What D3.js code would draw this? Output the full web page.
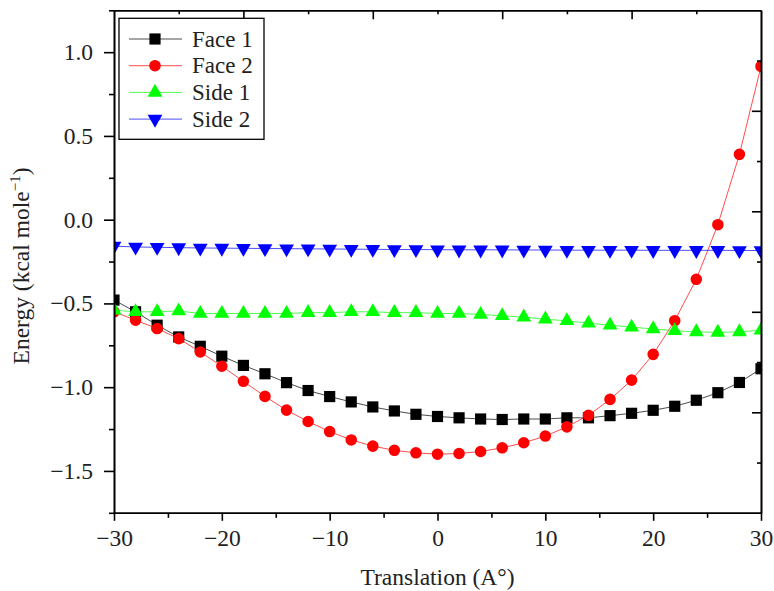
<!DOCTYPE html>
<html><head><meta charset="utf-8">
<script src="https://cdn.jsdelivr.net/npm/d3@7"></script>
<style>body{margin:0;background:#fff}svg{display:block}
svg text{font-family:"Liberation Serif","Times New Roman",serif !important;}
</style>
</head><body><svg id="c" width="774" height="591"></svg>
<script>
const translation = [-30,-28,-26,-24,-22,-20,-18,-16,-14,-12,-10,-8,-6,-4,-2,0,2,4,6,8,10,12,14,16,18,20,22,24,26,28,30];
const face1 = [-0.48,-0.55,-0.63,-0.70,-0.756,-0.815,-0.87,-0.92,-0.973,-1.02,-1.056,-1.088,-1.118,-1.142,-1.162,-1.175,-1.183,-1.19,-1.193,-1.19,-1.19,-1.183,-1.183,-1.17,-1.156,-1.138,-1.114,-1.078,-1.033,-0.972,-0.89];
const face2 = [-0.55,-0.60,-0.65,-0.71,-0.79,-0.875,-0.965,-1.055,-1.137,-1.205,-1.265,-1.315,-1.352,-1.377,-1.392,-1.40,-1.396,-1.384,-1.362,-1.332,-1.292,-1.237,-1.168,-1.073,-0.958,-0.804,-0.603,-0.356,-0.030,0.39,0.915];
const side1 = [-0.54,-0.55,-0.55,-0.545,-0.56,-0.56,-0.56,-0.56,-0.56,-0.555,-0.555,-0.55,-0.55,-0.555,-0.555,-0.56,-0.56,-0.566,-0.574,-0.582,-0.594,-0.604,-0.618,-0.63,-0.642,-0.652,-0.663,-0.67,-0.673,-0.67,-0.66];
const side2 = [-0.158,-0.163,-0.165,-0.167,-0.169,-0.17,-0.171,-0.172,-0.173,-0.174,-0.175,-0.176,-0.177,-0.178,-0.178,-0.179,-0.18,-0.18,-0.18,-0.181,-0.181,-0.182,-0.182,-0.182,-0.182,-0.183,-0.183,-0.183,-0.183,-0.184,-0.184];
const seriesNames = ["Face 1","Face 2","Side 1","Side 2"];
const seriesColors = ["#000000","#ff0000","#00ff00","#0000ff"];
const xTicks = [-30,-20,-10,0,10,20,30];
const yTicks = [1.0,0.5,0.0,-0.5,-1.0,-1.5];
const xTitle = "Translation (A°)";

const svg = d3.select("#c");
const L=114, R=761, T=10.3, B=512.8;
const x = d3.scaleLinear().domain([-30,30]).range([L,R]);
const y = d3.scaleLinear().domain([-1.75,1.25]).range([B,T]);
const FONT = "Liberation Serif";
const fmt = v => (v<0?"\u2212":"") + Math.abs(v).toFixed(1);
const fmtX = v => (v<0?"\u2212":"") + Math.abs(v);

svg.append("defs").append("clipPath").attr("id","clip")
  .append("rect").attr("x",L).attr("y",T).attr("width",R-L).attr("height",B-T);

const series = [
  {name:seriesNames[0], vals:face1, color:seriesColors[0], sym:d3.symbolSquare, size:125, rot:0},
  {name:seriesNames[1], vals:face2, color:seriesColors[1], sym:d3.symbolCircle, size:105, rot:0},
  {name:seriesNames[2], vals:side1, color:seriesColors[2], sym:d3.symbolTriangle, size:95, rot:0},
  {name:seriesNames[3], vals:side2, color:seriesColors[3], sym:d3.symbolTriangle, size:95, rot:180},
];

const plot = svg.append("g").attr("clip-path","url(#clip)");
series.forEach(s => {
  const pts = translation.map((t,i)=>[t,s.vals[i]]);
  plot.append("path").datum(pts)
    .attr("d", d3.line().x(d=>x(d[0])).y(d=>y(d[1])))
    .attr("fill","none").attr("stroke",s.color).attr("stroke-width",1).attr("stroke-opacity",0.7);
  plot.selectAll(null).data(pts).enter().append("path")
    .attr("d", d3.symbol().type(s.sym).size(s.size))
    .attr("transform", d=>`translate(${x(d[0])},${y(d[1])}) rotate(${s.rot})`)
    .attr("fill", s.color);
});

const axisStyle = g => { g.attr("font-family",FONT);
  g.selectAll("path.domain").attr("stroke","#000").attr("stroke-width",1.6);
  g.selectAll(".tick line").attr("stroke","#000").attr("stroke-width",1.6);
  g.selectAll(".tick text").attr("font-size",23.5).attr("fill","#222"); };

svg.append("g").attr("transform",`translate(0,${B})`)
  .call(d3.axisBottom(x).tickValues([-25,-15,-5,5,15,25]).tickSize(5).tickFormat("").tickSizeOuter(0)).call(axisStyle);
svg.append("g").attr("transform",`translate(0,${B})`)
  .call(d3.axisBottom(x).tickValues(xTicks).tickSize(8).tickPadding(9).tickFormat(fmtX).tickSizeOuter(0)).call(axisStyle);
svg.append("g").attr("transform",`translate(${L},0)`)
  .call(d3.axisLeft(y).tickValues([1.25,0.75,0.25,-0.25,-0.75,-1.25,-1.75]).tickSize(5).tickFormat("").tickSizeOuter(0)).call(axisStyle);
svg.append("g").attr("transform",`translate(${L},0)`)
  .call(d3.axisLeft(y).tickValues(yTicks).tickSize(10).tickPadding(11).tickFormat(fmt).tickSizeOuter(0)).call(axisStyle);
svg.append("g").attr("transform",`translate(0,${T})`)
  .call(d3.axisBottom(x).tickValues([-24,-12,0,12,24]).tickSize(4).tickFormat("").tickSizeOuter(0)).call(axisStyle);
svg.append("g").attr("transform",`translate(0,${T})`)
  .call(d3.axisBottom(x).tickValues([-18,-6,6,18]).tickSize(9).tickFormat("").tickSizeOuter(0)).call(axisStyle);
svg.append("g").attr("transform",`translate(${R},0)`)
  .call(d3.axisLeft(y).tickValues([-1.45,-0.85,-0.25,0.35,0.95]).tickSize(4).tickFormat("").tickSizeOuter(0)).call(axisStyle);
svg.append("g").attr("transform",`translate(${R},0)`)
  .call(d3.axisLeft(y).tickValues([-1.15,-0.55,0.05,0.65]).tickSize(9).tickFormat("").tickSizeOuter(0)).call(axisStyle);

svg.append("text").attr("x",(L+R)/2).attr("y",585).attr("text-anchor","middle")
  .attr("font-size",23.5).attr("fill","#222").text(xTitle);
const yt = svg.append("text").attr("transform","translate(29,266) rotate(-90)").attr("text-anchor","middle")
  .attr("font-size",23.5).attr("fill","#222");
yt.append("tspan").text("Energy (kcal mole");
yt.append("tspan").attr("font-size",15).attr("dy",-9).text("\u22121");
yt.append("tspan").attr("dy",9).text(")");

const lg = svg.append("g");
lg.append("rect").attr("x",119).attr("y",18.3).attr("width",145).attr("height",121)
  .attr("fill","#fff").attr("stroke","#000").attr("stroke-width",1.3);
series.forEach((s,i)=>{
  const cy = 39 + i*26.7;
  lg.append("line").attr("x1",129).attr("x2",182).attr("y1",cy).attr("y2",cy)
    .attr("stroke",s.color).attr("stroke-width",1).attr("stroke-opacity",0.7);
  lg.append("path").attr("d",d3.symbol().type(s.sym).size(s.size))
    .attr("transform",`translate(155,${cy}) rotate(${s.rot})`).attr("fill",s.color);
  lg.append("text").attr("x",192).attr("y",cy+7.5).attr("font-size",23)
    .attr("fill","#222").text(s.name);
});
</script></body></html>
